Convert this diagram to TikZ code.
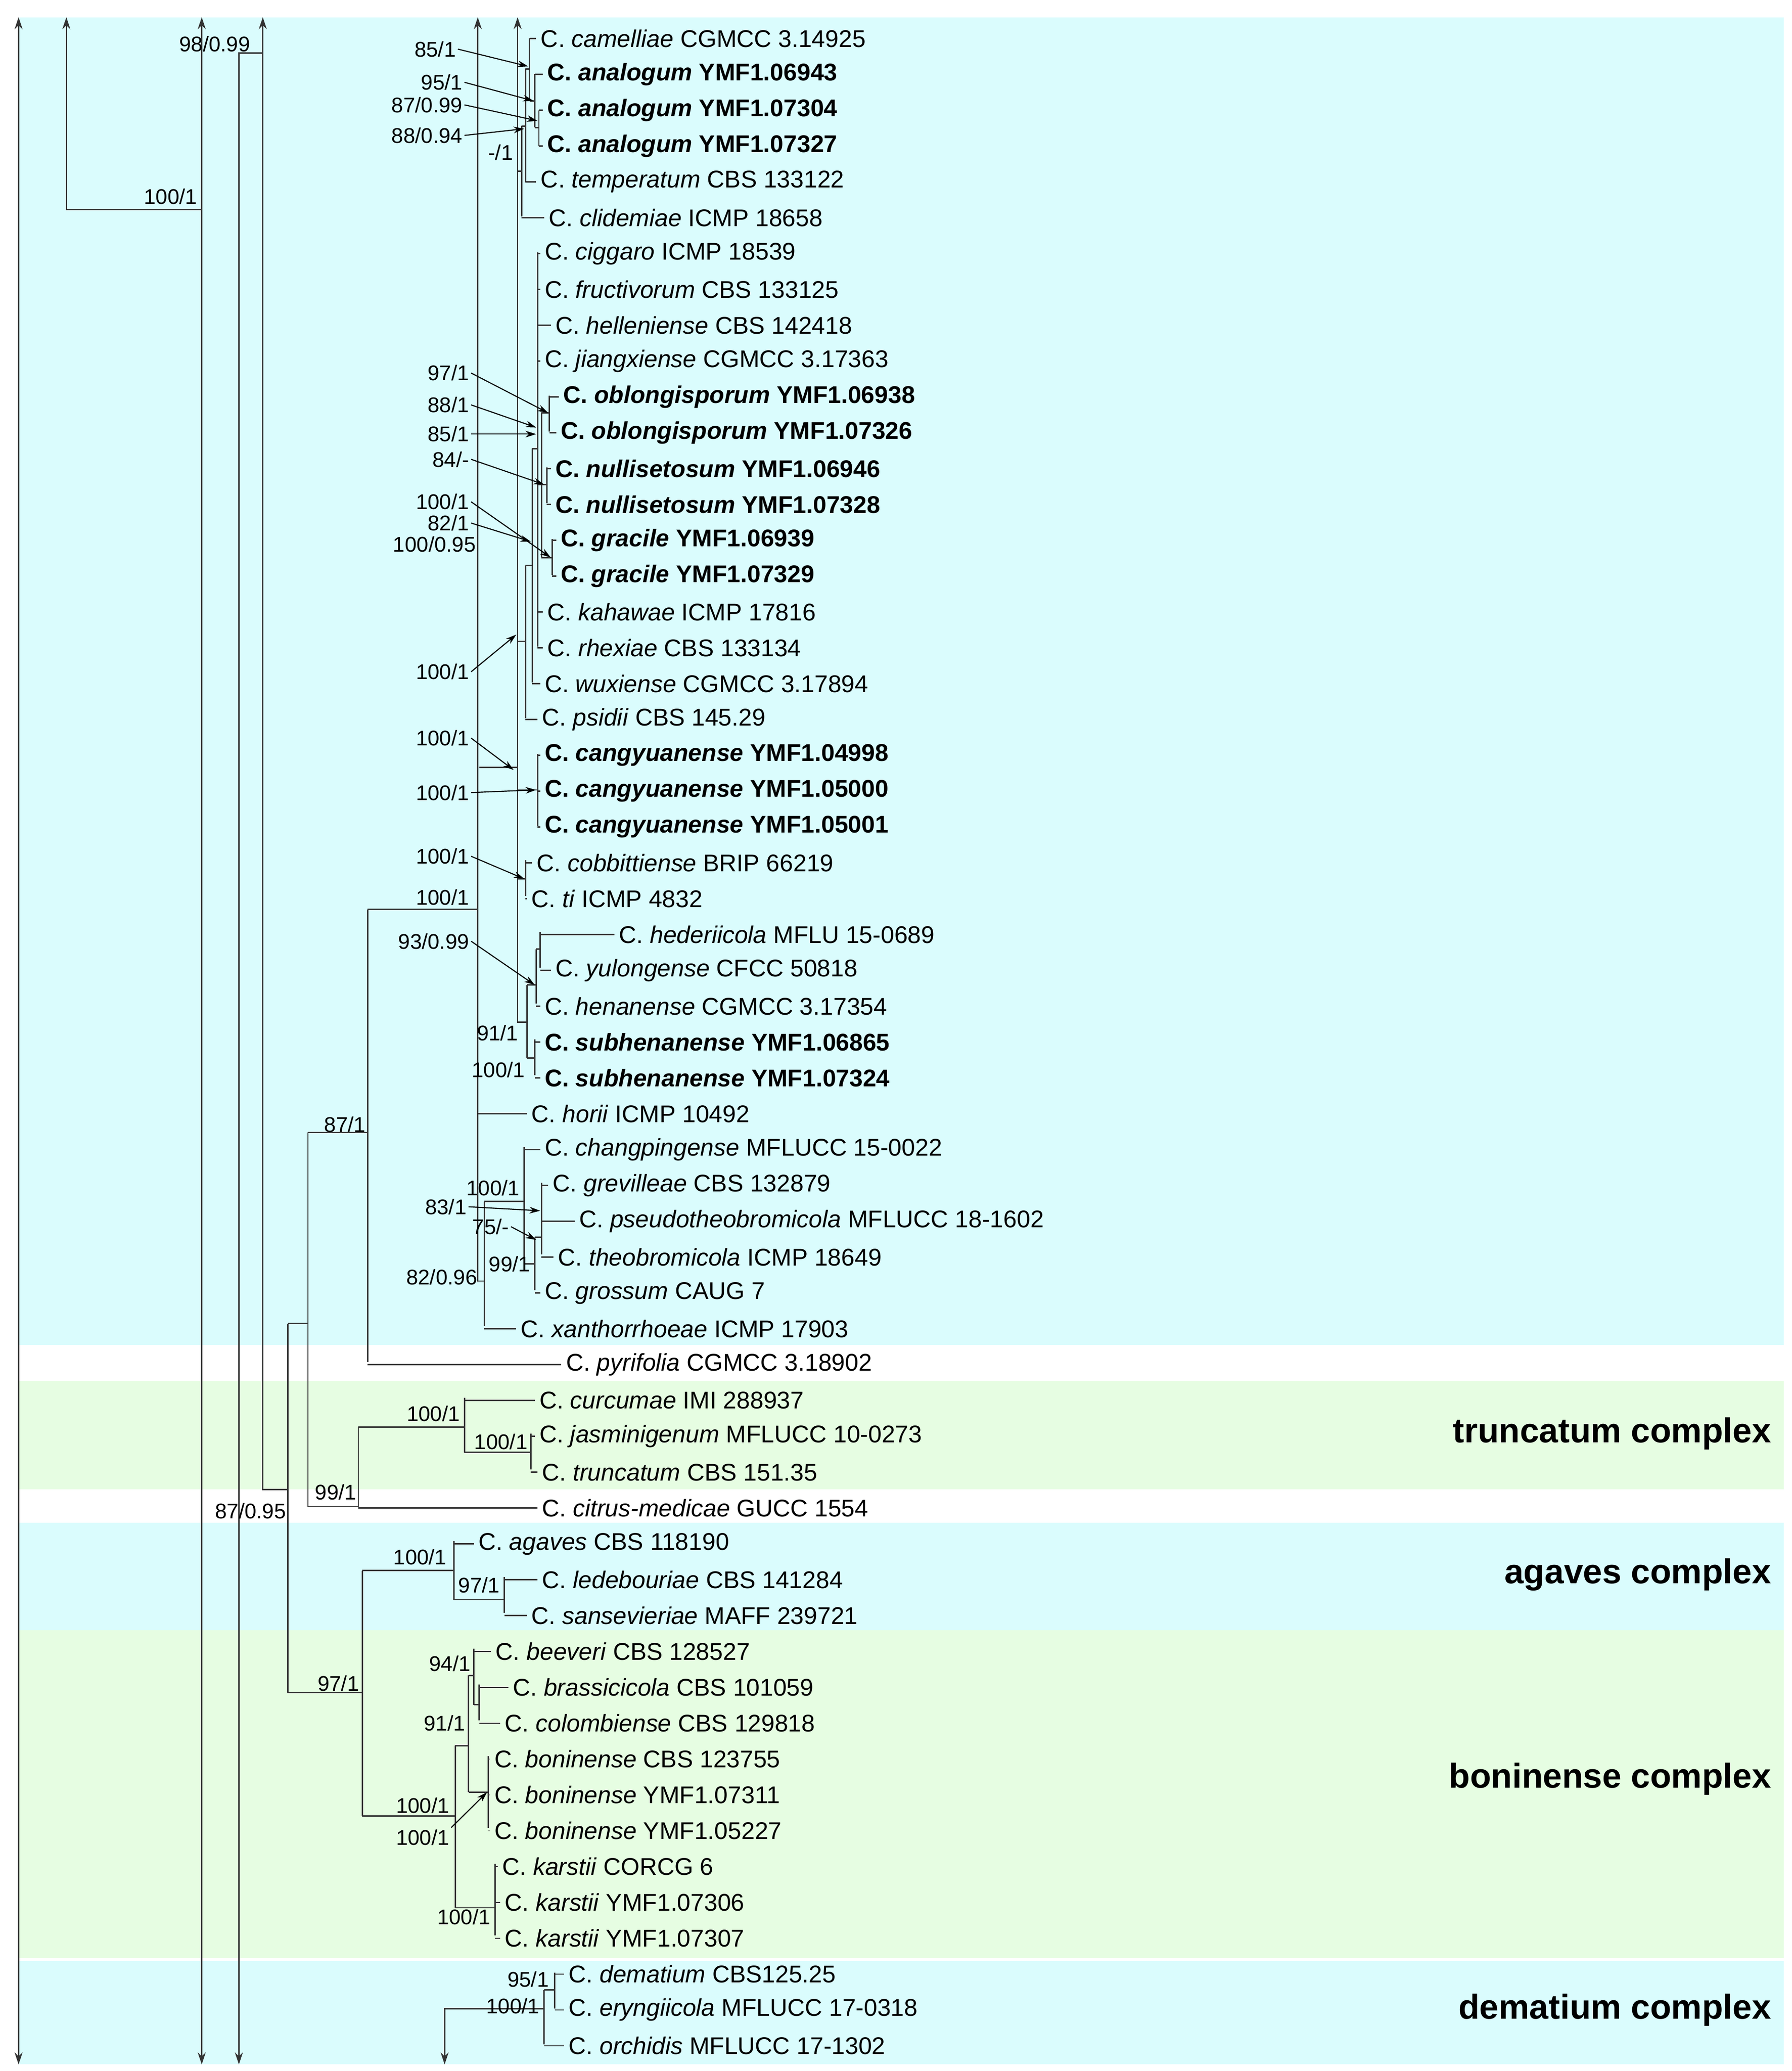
\documentclass[tikz,border=0pt]{standalone}
\usepackage{fontspec}
\setmainfont{Liberation Sans}
\usetikzlibrary{arrows.meta}
\definecolor{bgb}{RGB}{218,252,253}
\definecolor{bgg}{RGB}{230,253,226}
\begin{document}
\begin{tikzpicture}[x=1pt,y=-1pt,line width=1pt,
  leaf/.style={anchor=west,inner xsep=3pt,inner ysep=0pt,font=\fontsize{18.2}{20}\selectfont},
  lab/.style={anchor=east,inner sep=1pt,font=\fontsize{16}{18}\selectfont},
  cx/.style={anchor=east,inner sep=0pt,font=\bfseries\fontsize{26}{30}\selectfont},
  ar/.style={-{Stealth[length=8pt,width=5pt]},line width=0.8pt},
  br/.style={line width=1pt,draw=black!80}]
\useasboundingbox (0,0) rectangle (1350,1560);
\fill[white] (0,0) rectangle (1350,1560);
\fill[bgb] (14,13) rectangle (1344,1013);
\fill[bgg] (14,1040) rectangle (1344,1122);
\fill[bgb] (14,1147) rectangle (1344,1228);
\fill[bgg] (14,1228) rectangle (1344,1475);
\fill[bgb] (14,1477) rectangle (1344,1555);
\newcommand\lf[5]{\node[leaf] (#1) at (#4,{29+27*#2}) {#5}; \draw[br] (#3,{29+27*#2}) -- (#1.west);}
\lf{l0}{0}{399}{404}{C. \textit{camelliae} CGMCC 3.14925}
\lf{l1}{1}{403}{409}{\bfseries C. \textit{analogum} YMF1.06943}
\lf{l2}{2}{406}{409}{\bfseries C. \textit{analogum} YMF1.07304}
\lf{l3}{3}{406}{409}{\bfseries C. \textit{analogum} YMF1.07327}
\lf{l4}{4}{396}{404}{C. \textit{temperatum} CBS 133122}
\lf{l5}{5}{393}{410}{C. \textit{clidemiae} ICMP 18658}
\lf{l6}{6}{405}{407}{C. \textit{ciggaro} ICMP 18539}
\lf{l7}{7}{405}{407}{C. \textit{fructivorum} CBS 133125}
\lf{l8}{8}{405}{415}{C. \textit{helleniense} CBS 142418}
\lf{l9}{9}{405}{407}{C. \textit{jiangxiense} CGMCC 3.17363}
\lf{l10}{10}{414}{421}{\bfseries C. \textit{oblongisporum} YMF1.06938}
\lf{l11}{11}{414}{419}{\bfseries C. \textit{oblongisporum} YMF1.07326}
\lf{l12}{12}{412}{415}{\bfseries C. \textit{nullisetosum} YMF1.06946}
\lf{l13}{13}{412}{415}{\bfseries C. \textit{nullisetosum} YMF1.07328}
\lf{l14}{14}{416}{419}{\bfseries C. \textit{gracile} YMF1.06939}
\lf{l15}{15}{416}{419}{\bfseries C. \textit{gracile} YMF1.07329}
\lf{l16}{16}{405}{409}{C. \textit{kahawae} ICMP 17816}
\lf{l17}{17}{405}{409}{C. \textit{rhexiae} CBS 133134}
\lf{l18}{18}{401}{407}{C. \textit{wuxiense} CGMCC 3.17894}
\lf{l19}{19}{396}{405}{C. \textit{psidii} CBS 145.29}
\lf{l20}{20}{405}{407}{\bfseries C. \textit{cangyuanense} YMF1.04998}
\lf{l21}{21}{405}{407}{\bfseries C. \textit{cangyuanense} YMF1.05000}
\lf{l22}{22}{405}{407}{\bfseries C. \textit{cangyuanense} YMF1.05001}
\lf{l23}{23}{396}{401}{C. \textit{cobbittiense} BRIP 66219}
\lf{l24}{24}{396}{397}{C. \textit{ti} ICMP 4832}
\lf{l25}{25}{407}{463}{C. \textit{hederiicola} MFLU 15-0689}
\lf{l26}{26}{407}{415}{C. \textit{yulongense} CFCC 50818}
\lf{l27}{27}{404}{407}{C. \textit{henanense} CGMCC 3.17354}
\lf{l28}{28}{403}{407}{\bfseries C. \textit{subhenanense} YMF1.06865}
\lf{l29}{29}{403}{407}{\bfseries C. \textit{subhenanense} YMF1.07324}
\lf{l30}{30}{360}{397}{C. \textit{horii} ICMP 10492}
\lf{l31}{31}{395}{407}{C. \textit{changpingense} MFLUCC 15-0022}
\lf{l32}{32}{408}{413}{C. \textit{grevilleae} CBS 132879}
\lf{l33}{33}{408}{433}{C. \textit{pseudotheobromicola} MFLUCC 18-1602}
\lf{l34}{34}{408}{417}{C. \textit{theobromicola} ICMP 18649}
\lf{l35}{35}{403}{407}{C. \textit{grossum} CAUG 7}
\lf{l36}{36}{365}{389}{C. \textit{xanthorrhoeae} ICMP 17903}
\lf{l37}{37}{277}{423}{C. \textit{pyrifolia} CGMCC 3.18902}
\lf{l38}{38}{350}{403}{C. \textit{curcumae} IMI 288937}
\lf{l39}{39}{400}{403}{C. \textit{jasminigenum} MFLUCC 10-0273}
\lf{l40}{40}{400}{405}{C. \textit{truncatum} CBS 151.35}
\lf{l41}{41}{270}{405}{C. \textit{citrus-medicae} GUCC 1554}
\lf{l42}{42}{342}{357}{C. \textit{agaves} CBS 118190}
\lf{l43}{43}{380}{405}{C. \textit{ledebouriae} CBS 141284}
\lf{l44}{44}{380}{397}{C. \textit{sansevieriae} MAFF 239721}
\lf{l45}{45}{357}{370}{C. \textit{beeveri} CBS 128527}
\lf{l46}{46}{361}{383}{C. \textit{brassicicola} CBS 101059}
\lf{l47}{47}{361}{377}{C. \textit{colombiense} CBS 129818}
\lf{l48}{48}{368}{369}{C. \textit{boninense} CBS 123755}
\lf{l49}{49}{368}{369}{C. \textit{boninense} YMF1.07311}
\lf{l50}{50}{368}{369}{C. \textit{boninense} YMF1.05227}
\lf{l51}{51}{373}{375}{C. \textit{karstii} CORCG 6}
\lf{l52}{52}{373}{377}{C. \textit{karstii} YMF1.07306}
\lf{l53}{53}{373}{377}{C. \textit{karstii} YMF1.07307}
\lf{l54}{54}{418}{425}{C. \textit{dematium} CBS125.25}
\lf{l55}{55}{418}{425}{C. \textit{eryngiicola} MFLUCC 17-0318}
\lf{l56}{56}{410}{425}{C. \textit{orchidis} MFLUCC 17-1302}
% outer truncated lines
\draw[br,{Stealth[length=9pt,width=6pt]}-{Stealth[length=9pt,width=6pt]}] (14,13) -- (14,1555);
\draw[br,{Stealth[length=9pt,width=6pt]}-{Stealth[length=9pt,width=6pt]}] (152,13) -- (152,1555);
\draw[br,{Stealth[length=9pt,width=6pt]}-] (50,13) -- (50,158) -- (152,158);
\draw[br,-{Stealth[length=9pt,width=6pt]}] (198,40) -- (180,40) -- (180,1555);
\draw[br,{Stealth[length=9pt,width=6pt]}-] (198,13) -- (198,1122) -- (217,1122);
\draw[br,{Stealth[length=9pt,width=6pt]}-] (360,13) -- (360,965) -- (365,965);
\draw[br,{Stealth[length=9pt,width=6pt]}-] (390,13) -- (390,770) -- (397,770);
\draw[br,-{Stealth[length=9pt,width=6pt]}] (410,1513) -- (335,1513) -- (335,1555);
% top clade
\draw[br] (399,29)--(399,76) (399,76)--(403,76) (403,56)--(403,96) (403,96)--(406,96) (406,83)--(406,110);
\draw[br] (396,52)--(399,52) (396,52)--(396,137) (393,95)--(396,95) (393,95)--(393,163) (390,129)--(393,129);
\draw[br] (405,190)--(405,487) (401,338)--(405,338) (405,365)--(408,365) (408,311)--(408,420);
\draw[br] (408,311)--(414,311) (414,298)--(414,325) (408,365)--(412,365) (412,352)--(412,379) (408,420)--(416,420) (416,406)--(416,433);
\draw[br] (401,338)--(401,514) (396,426)--(401,426) (396,426)--(396,541) (390,483)--(396,483);
\draw[br] (390,595)--(405,595) (405,568)--(405,622) (390,662)--(396,662) (396,648)--(396,675) (361,578)--(390,578);
\draw[br] (397,742)--(397,797) (397,742)--(404,742) (404,715)--(404,756) (404,715)--(407,715) (407,702)--(407,729) (397,797)--(403,797) (403,783)--(403,810);
% lower gloeosporioides
\draw[br] (277,685)--(360,685) (365,905)--(365,999) (365,905)--(395,905) (395,864)--(395,952) (395,952)--(403,952) (403,932)--(403,972) (403,932)--(408,932) (408,891)--(408,945);
\draw[br] (277,685)--(277,1026) (232,853)--(277,853) (232,853)--(232,1135) (232,1135)--(270,1135) (270,1075)--(270,1135) (270,1075)--(350,1075) (350,1053)--(350,1094) (350,1094)--(400,1094) (400,1080)--(400,1107);
\draw[br] (217,997)--(232,997) (217,997)--(217,1275) (217,1275)--(273,1275) (273,1183)--(273,1368);
\draw[br] (273,1183)--(342,1183) (342,1161)--(342,1205) (342,1205)--(380,1205) (380,1188)--(380,1215);
\draw[br] (273,1368)--(343,1368) (343,1315)--(343,1437) (343,1315)--(353,1315) (353,1262)--(353,1350) (353,1262)--(357,1262) (357,1242)--(357,1284) (357,1284)--(361,1284) (361,1269)--(361,1296) (353,1350)--(368,1350) (368,1323)--(368,1377) (343,1437)--(373,1437) (373,1404)--(373,1458);
\draw[br] (410,1499)--(410,1540) (410,1499)--(418,1499) (418,1486)--(418,1513);
% support labels
\node[lab] at (190,33) {98/0.99};
\node[lab] at (150,148) {100/1};
\node[lab] (a1) at (345,37) {85/1}; \draw[ar] (a1.east) -- (398,50);
\node[lab] (a2) at (350,62) {95/1}; \draw[ar] (a2.east) -- (402,76);
\node[lab] (a3) at (350,79) {87/0.99}; \draw[ar] (a3.east) -- (405,91);
\node[lab] (a4) at (350,102) {88/0.94}; \draw[ar] (a4.east) -- (395,97);
\node[lab] at (388,115) {-/1};
\node[lab] (a5) at (355,281) {97/1}; \draw[ar] (a5.east) -- (413,311);
\node[lab] (a6) at (355,305) {88/1}; \draw[ar] (a6.east) -- (404,322);
\node[lab] (a7) at (355,327) {85/1}; \draw[ar] (a7.east) -- (404,327);
\node[lab] (a8) at (355,346) {84/-}; \draw[ar] (a8.east) -- (410,365);
\node[lab] (a9) at (355,378) {100/1}; \draw[ar] (a9.east) -- (415,420);
\node[lab] (a10) at (355,394) {82/1}; \draw[ar] (a10.east) -- (400,408);
\node[lab] at (360,410) {100/0.95};
\node[lab] (a11) at (355,506) {100/1}; \draw[ar] (a11.east) -- (389,478);
\node[lab] (a12) at (355,556) {100/1}; \draw[ar] (a12.east) -- (387,580);
\node[lab] (a13) at (355,597) {100/1}; \draw[ar] (a13.east) -- (404,595);
\node[lab] (a14) at (355,645) {100/1}; \draw[ar] (a14.east) -- (395,662);
\node[lab] at (355,676) {100/1};
\node[lab] (a15) at (355,709) {93/0.99}; \draw[ar] (a15.east) -- (403,742);
\node[lab] at (392,778) {91/1};
\node[lab] at (397,806) {100/1};
\node[lab] at (393,895) {100/1};
\node[lab] (a16) at (353,909) {83/1}; \draw[ar] (a16.east) -- (407,912);
\node[lab] (a17) at (385,924) {75/-}; \draw[ar] (a17.east) -- (404,934);
\node[lab] at (401,952) {99/1};
\node[lab] at (361,962) {82/0.96};
\node[lab] at (277,847) {87/1};
\node[lab] at (270,1124) {99/1};
\node[lab] at (348,1065) {100/1};
\node[lab] at (399,1086) {100/1};
\node[lab] at (217,1138) {87/0.95};
\node[lab] at (338,1173) {100/1};
\node[lab] at (378,1194) {97/1};
\node[lab] at (272,1268) {97/1};
\node[lab] at (356,1253) {94/1};
\node[lab] at (352,1298) {91/1};
\node[lab] at (340,1360) {100/1};
\node[lab] (a18) at (340,1384) {100/1}; \draw[ar] (a18.north east) -- (367,1350);
\node[lab] at (371,1444) {100/1};
\node[lab] at (415,1491) {95/1};
\node[lab] at (408,1511) {100/1};
% complex names
\node[cx] at (1335,1080) {truncatum complex};
\node[cx] at (1335,1186) {agaves complex};
\node[cx] at (1335,1340) {boninense complex};
\node[cx] at (1335,1514) {dematium complex};
\end{tikzpicture}
\end{document}
